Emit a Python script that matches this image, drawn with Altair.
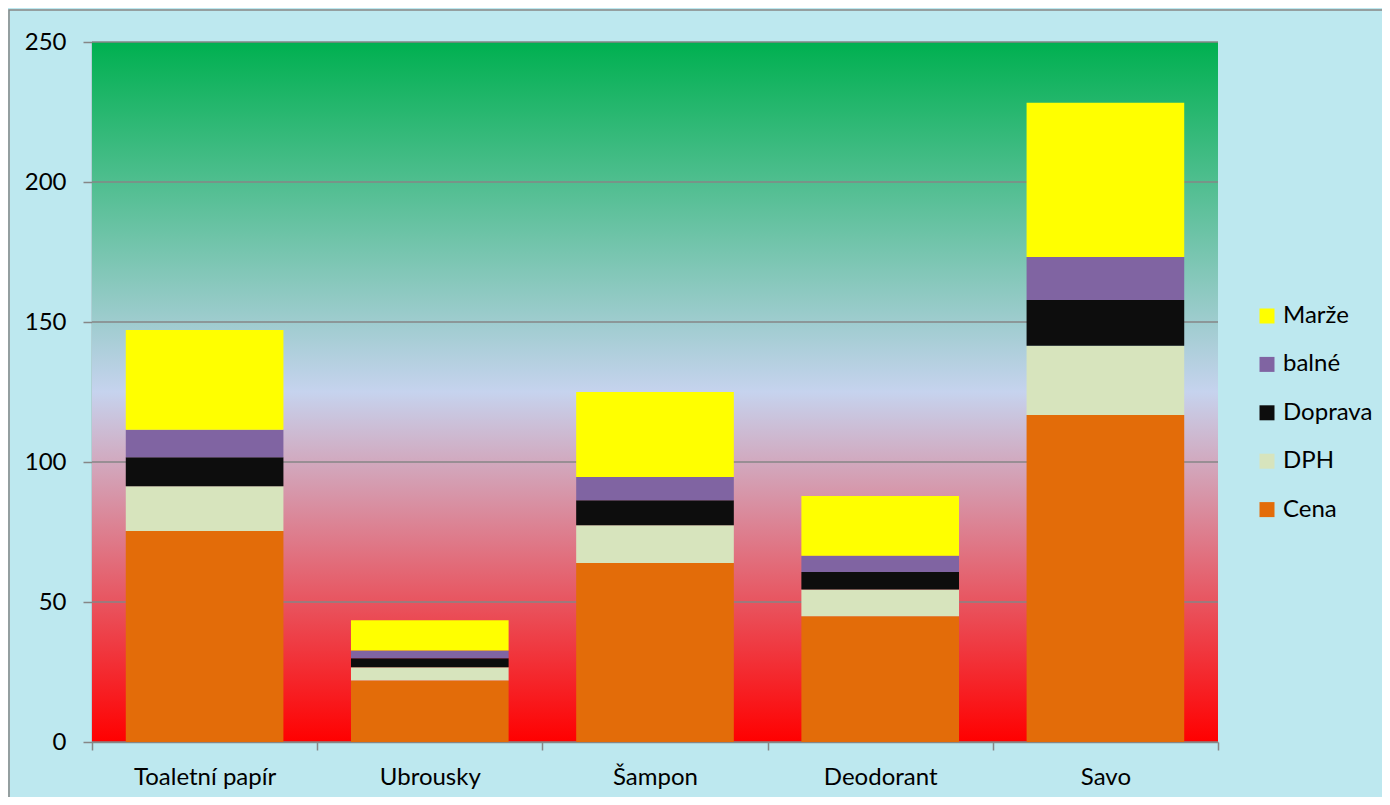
import altair as alt
import pandas as pd

categories = ["Toaletní papír", "Ubrousky", "Šampon", "Deodorant", "Savo"]
series = ["Cena", "DPH", "Doprava", "balné", "Marže"]
cena = [75.4, 22.0, 63.9, 44.9, 116.8]
dph = [15.9, 4.7, 13.5, 9.6, 24.7]
doprava = [10.4, 3.2, 8.9, 6.2, 16.4]
balne = [9.8, 2.8, 8.3, 5.8, 15.3]
marze = [35.6, 10.8, 30.4, 21.4, 55.1]
y_ticks = [0, 50, 100, 150, 200, 250]

legend_order = ["Marže", "balné", "Doprava", "DPH", "Cena"]
legend_colors = ["#FFFF00", "#8064A2", "#0D0D0D", "#D7E4BD", "#E36C09"]

values = {"Cena": cena, "DPH": dph, "Doprava": doprava, "balné": balne, "Marže": marze}
rows = []
for si, s in enumerate(series):
    for ci, c in enumerate(categories):
        rows.append({"kategorie": c, "polozka": s, "hodnota": values[s][ci], "poradi": si})
df = pd.DataFrame(rows)

W, H = 1126, 700
FONT = "Lato"
FS = 24
GRAY = "#868686"

y_scale = alt.Scale(domain=[0, 250], nice=False, zero=True)
x_scale = alt.Scale(paddingInner=0, paddingOuter=0)

y_axis = alt.Axis(values=y_ticks, grid=False, title=None, domainColor=GRAY, domainWidth=1.5,
                  tickColor=GRAY, tickWidth=1.5, tickSize=9, labelPadding=17,
                  labelFont=FONT, labelFontSize=FS, labelColor="#000000")

gradient = alt.LinearGradient(
    gradient="linear", x1=0, x2=0, y1=0, y2=1,
    stops=[alt.GradientStop(color="#00B050", offset=0),
           alt.GradientStop(color="#C6D3EE", offset=0.5),
           alt.GradientStop(color="#FF0000", offset=1)])

one = pd.DataFrame({"a": [0]})

frame = alt.Chart(one).mark_rect(fillOpacity=0, stroke=GRAY, strokeWidth=1.5).encode(
    x=alt.value(-83), x2=alt.value(1400), y=alt.value(-32), y2=alt.value(900))

bg = alt.Chart(one).mark_rect(fill=gradient).encode(
    x=alt.value(0), x2=alt.value(W), y=alt.value(0), y2=alt.value(H))

grid = alt.Chart(pd.DataFrame({"hodnota": y_ticks})).mark_rule(color=GRAY, strokeWidth=1.5).encode(
    y=alt.Y("hodnota:Q", scale=y_scale, axis=y_axis))

bars = alt.Chart(df).mark_bar(width={"band": 0.7}).encode(
    x=alt.X("kategorie:N", sort=categories, scale=x_scale,
            axis=alt.Axis(title=None, labelAngle=0, tickBand="extent", domainColor=GRAY,
                          domainWidth=1.5, tickColor=GRAY, tickWidth=1.5, tickSize=8,
                          labelPadding=15, labelFont=FONT, labelFontSize=FS,
                          labelColor="#000000")),
    y=alt.Y("hodnota:Q", stack="zero", scale=y_scale, axis=y_axis),
    color=alt.Color("polozka:N", scale=alt.Scale(domain=legend_order, range=legend_colors),
                    legend=alt.Legend(title=None, orient="none", legendX=1163, legendY=262,
                                      symbolType="square", symbolSize=225, symbolStrokeWidth=0,
                                      labelFont=FONT, labelFontSize=FS, labelColor="#000000",
                                      rowPadding=24.4, padding=0, labelOffset=4)),
    order=alt.Order("poradi:Q", sort="ascending"),
)

chart = alt.layer(frame, bg, grid, bars).properties(
    width=W, height=H, autosize="none",
    padding={"left": 84, "top": 34, "right": 164, "bottom": 55},
    background="#BDE8EF",
).configure_view(strokeWidth=0)

chart.save("out.html", embed_options={"renderer": "svg", "actions": False})
